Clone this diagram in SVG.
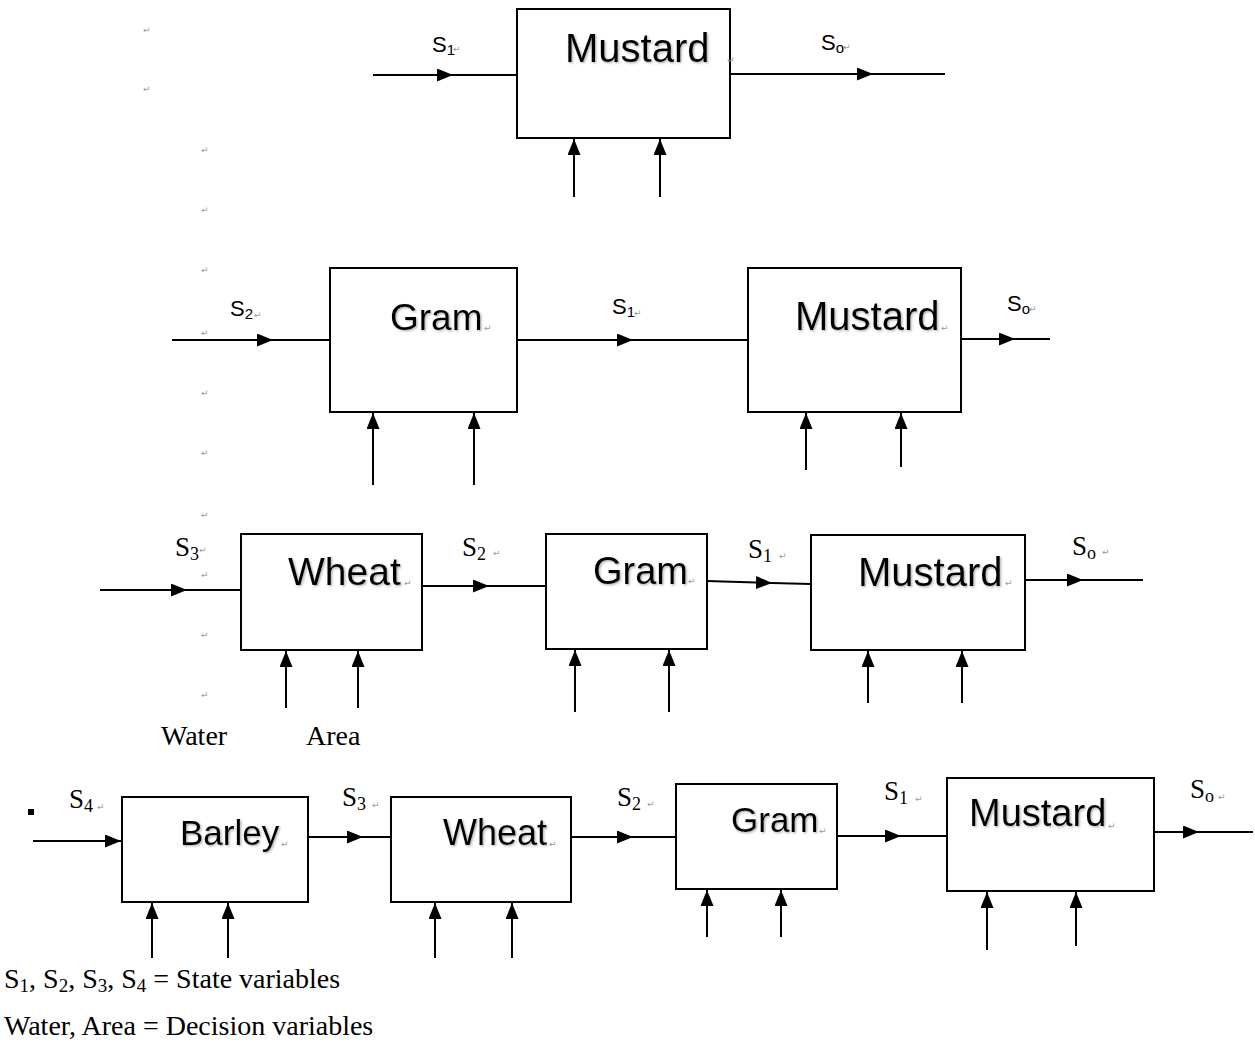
<svg xmlns="http://www.w3.org/2000/svg" width="1255" height="1042" viewBox="0 0 1255 1042">
<style>
.box{fill:#fff;stroke:#000;stroke-width:2}
.ln{fill:none;stroke:#000;stroke-width:2}
.up{fill:none;stroke:#000;stroke-width:2;marker-end:url(#ah)}
.mid{fill:none;stroke:#000;stroke-width:2;marker-mid:url(#ah)}
.nm{font-family:"Liberation Sans",Arial,sans-serif;fill:#000;filter:url(#sh)}
.ss{font-family:"Liberation Sans",Arial,sans-serif;font-size:22px;fill:#000}
.ts{font-family:"Liberation Serif","Times New Roman",serif;font-size:27px;fill:#000}
.lg{font-family:"Liberation Serif","Times New Roman",serif;font-size:28px;fill:#000}
.pm{font-family:"DejaVu Sans",sans-serif;font-size:9px;fill:#9a9a9a}
</style>
<defs>
<marker id="ah" viewBox="0 0 16 13" refX="16" refY="6.5" markerWidth="16" markerHeight="13" markerUnits="userSpaceOnUse" orient="auto"><path d="M0,0 L16,6.5 L0,13 z" fill="#000"/></marker>
<filter id="sh" x="-10%" y="-20%" width="130%" height="150%"><feDropShadow dx="1.2" dy="1.2" stdDeviation="0.8" flood-color="#777" flood-opacity="0.6"/></filter>
</defs>
<rect width="1255" height="1042" fill="#fff"/>

<g id="connectors">
<!-- row 1 -->
<path class="mid" d="M373,75 L453,75 L517,75"/>
<path class="mid" d="M730,74 L873,74 L945,74"/>
<path class="up" d="M574,197 L574,139"/>
<path class="up" d="M660,197 L660,139"/>
<!-- row 2 -->
<path class="mid" d="M172,340 L273,340 L330,340"/>
<path class="mid" d="M517,340 L633,340 L748,340"/>
<path class="mid" d="M961,339 L1015,339 L1050,339"/>
<path class="up" d="M373,485 L373,413"/>
<path class="up" d="M474,485 L474,413"/>
<path class="up" d="M806,470 L806,413"/>
<path class="up" d="M901,467 L901,413"/>
<!-- row 3 -->
<path class="mid" d="M100,590 L187,590 L245,590"/>
<path class="mid" d="M422,586 L489,586 L546,586"/>
<path class="mid" d="M707,581 L772,583 L811,584"/>
<path class="mid" d="M1025,580 L1083,580 L1143,580"/>
<path class="up" d="M286,708 L286,651"/>
<path class="up" d="M358,708 L358,651"/>
<path class="up" d="M575,712 L575,650"/>
<path class="up" d="M669,712 L669,650"/>
<path class="up" d="M868,703 L868,651"/>
<path class="up" d="M962,703 L962,651"/>
<!-- row 4 -->
<path class="up" d="M33,841 L121,841"/>
<path class="mid" d="M308,837 L363,837 L391,837"/>
<path class="mid" d="M571,837 L633,837 L676,837"/>
<path class="mid" d="M837,836 L901,836 L947,836"/>
<path class="mid" d="M1154,832 L1199,832 L1253,832"/>
<path class="up" d="M152,958 L152,903"/>
<path class="up" d="M228,958 L228,903"/>
<path class="up" d="M435,958 L435,903"/>
<path class="up" d="M512,958 L512,903"/>
<path class="up" d="M707,937 L707,890"/>
<path class="up" d="M781,937 L781,890"/>
<path class="up" d="M987,950 L987,892"/>
<path class="up" d="M1076,946 L1076,892"/>
</g>

<g id="node-r1-mustard"><rect class="box" x="517" y="9" width="213" height="129"/><text class="nm" x="565" y="62" font-size="40">Mustard</text></g>

<g id="node-r2-gram"><rect class="box" x="330" y="268" width="187" height="144"/><text class="nm" x="390" y="330" font-size="37">Gram</text></g>
<g id="node-r2-mustard"><rect class="box" x="748" y="268" width="213" height="144"/><text class="nm" x="795" y="330" font-size="40">Mustard</text></g>

<g id="node-r3-wheat"><rect class="box" x="241" y="534" width="181" height="116"/><text class="nm" x="288" y="585" font-size="39">Wheat</text></g>
<g id="node-r3-gram"><rect class="box" x="546" y="534" width="161" height="115"/><text class="nm" x="593" y="584" font-size="38">Gram</text></g>
<g id="node-r3-mustard"><rect class="box" x="811" y="535" width="214" height="115"/><text class="nm" x="858" y="586" font-size="40">Mustard</text></g>

<g id="node-r4-barley"><rect class="box" x="122" y="797" width="186" height="105"/><text class="nm" x="180" y="845" font-size="35">Barley</text></g>
<g id="node-r4-wheat"><rect class="box" x="391" y="797" width="180" height="105"/><text class="nm" x="443" y="845" font-size="36">Wheat</text></g>
<g id="node-r4-gram"><rect class="box" x="676" y="784" width="161" height="105"/><text class="nm" x="731" y="832" font-size="35">Gram</text></g>
<g id="node-r4-mustard"><rect class="box" x="947" y="778" width="207" height="113"/><text class="nm" x="969" y="826" font-size="38">Mustard</text></g>

<g id="labels">
<text class="ss" x="432" y="52">S<tspan font-size="15" dy="3">1</tspan></text>
<text class="ss" x="821" y="50">S<tspan font-size="15" dy="3">o</tspan></text>
<text class="ss" x="230" y="316">S<tspan font-size="15" dy="3">2</tspan></text>
<text class="ss" x="612" y="314">S<tspan font-size="15" dy="3">1</tspan></text>
<text class="ss" x="1007" y="311">S<tspan font-size="15" dy="3">o</tspan></text>

<text class="ts" x="175" y="556">S<tspan font-size="18" dy="4">3</tspan></text>
<text class="ts" x="462" y="556">S<tspan font-size="18" dy="4">2</tspan></text>
<text class="ts" x="748" y="558">S<tspan font-size="18" dy="4">1</tspan></text>
<text class="ts" x="1072" y="555">S<tspan font-size="18" dy="4">o</tspan></text>
<text class="lg" x="161" y="745">Water</text>
<text class="lg" x="306" y="745">Area</text>

<rect x="28" y="809" width="6" height="6" fill="#000"/>
<text class="ts" x="69" y="808">S<tspan font-size="18" dy="4">4</tspan></text>
<text class="ts" x="342" y="806">S<tspan font-size="18" dy="4">3</tspan></text>
<text class="ts" x="617" y="806">S<tspan font-size="18" dy="4">2</tspan></text>
<text class="ts" x="884" y="800">S<tspan font-size="18" dy="4">1</tspan></text>
<text class="ts" x="1190" y="798">S<tspan font-size="18" dy="4">o</tspan></text>

<text class="lg" x="4" y="988">S<tspan font-size="19" dy="4">1</tspan><tspan dy="-4">, S</tspan><tspan font-size="19" dy="4">2</tspan><tspan dy="-4">, S</tspan><tspan font-size="19" dy="4">3</tspan><tspan dy="-4">, S</tspan><tspan font-size="19" dy="4">4</tspan><tspan dy="-4"> = State variables</tspan></text>
<text class="lg" x="4" y="1035">Water, Area = Decision variables</text>
</g>

<g id="paragraph-marks">
<text class="pm" x="143" y="33">↵</text>
<text class="pm" x="143" y="92">↵</text>
<text class="pm" x="201" y="153">↵</text>
<text class="pm" x="201" y="213">↵</text>
<text class="pm" x="201" y="273">↵</text>
<text class="pm" x="201" y="336">↵</text>
<text class="pm" x="201" y="396">↵</text>
<text class="pm" x="201" y="456">↵</text>
<text class="pm" x="201" y="518">↵</text>
<text class="pm" x="201" y="578">↵</text>
<text class="pm" x="201" y="638">↵</text>
<text class="pm" x="201" y="698">↵</text>
<text class="pm" x="453" y="52">↵</text>
<text class="pm" x="727" y="63">↵</text>
<text class="pm" x="843" y="50">↵</text>
<text class="pm" x="254" y="318">↵</text>
<text class="pm" x="484" y="331">↵</text>
<text class="pm" x="634" y="316">↵</text>
<text class="pm" x="941" y="331">↵</text>
<text class="pm" x="1029" y="312">↵</text>
<text class="pm" x="199" y="553">↵</text>
<text class="pm" x="404" y="586">↵</text>
<text class="pm" x="493" y="556">↵</text>
<text class="pm" x="688" y="584">↵</text>
<text class="pm" x="779" y="559">↵</text>
<text class="pm" x="1005" y="586">↵</text>
<text class="pm" x="1102" y="555">↵</text>
<text class="pm" x="97" y="810">↵</text>
<text class="pm" x="281" y="847">↵</text>
<text class="pm" x="372" y="808">↵</text>
<text class="pm" x="647" y="807">↵</text>
<text class="pm" x="549" y="847">↵</text>
<text class="pm" x="819" y="834">↵</text>
<text class="pm" x="915" y="802">↵</text>
<text class="pm" x="1108" y="829">↵</text>
<text class="pm" x="1218" y="800">↵</text>
</g>
</svg>
